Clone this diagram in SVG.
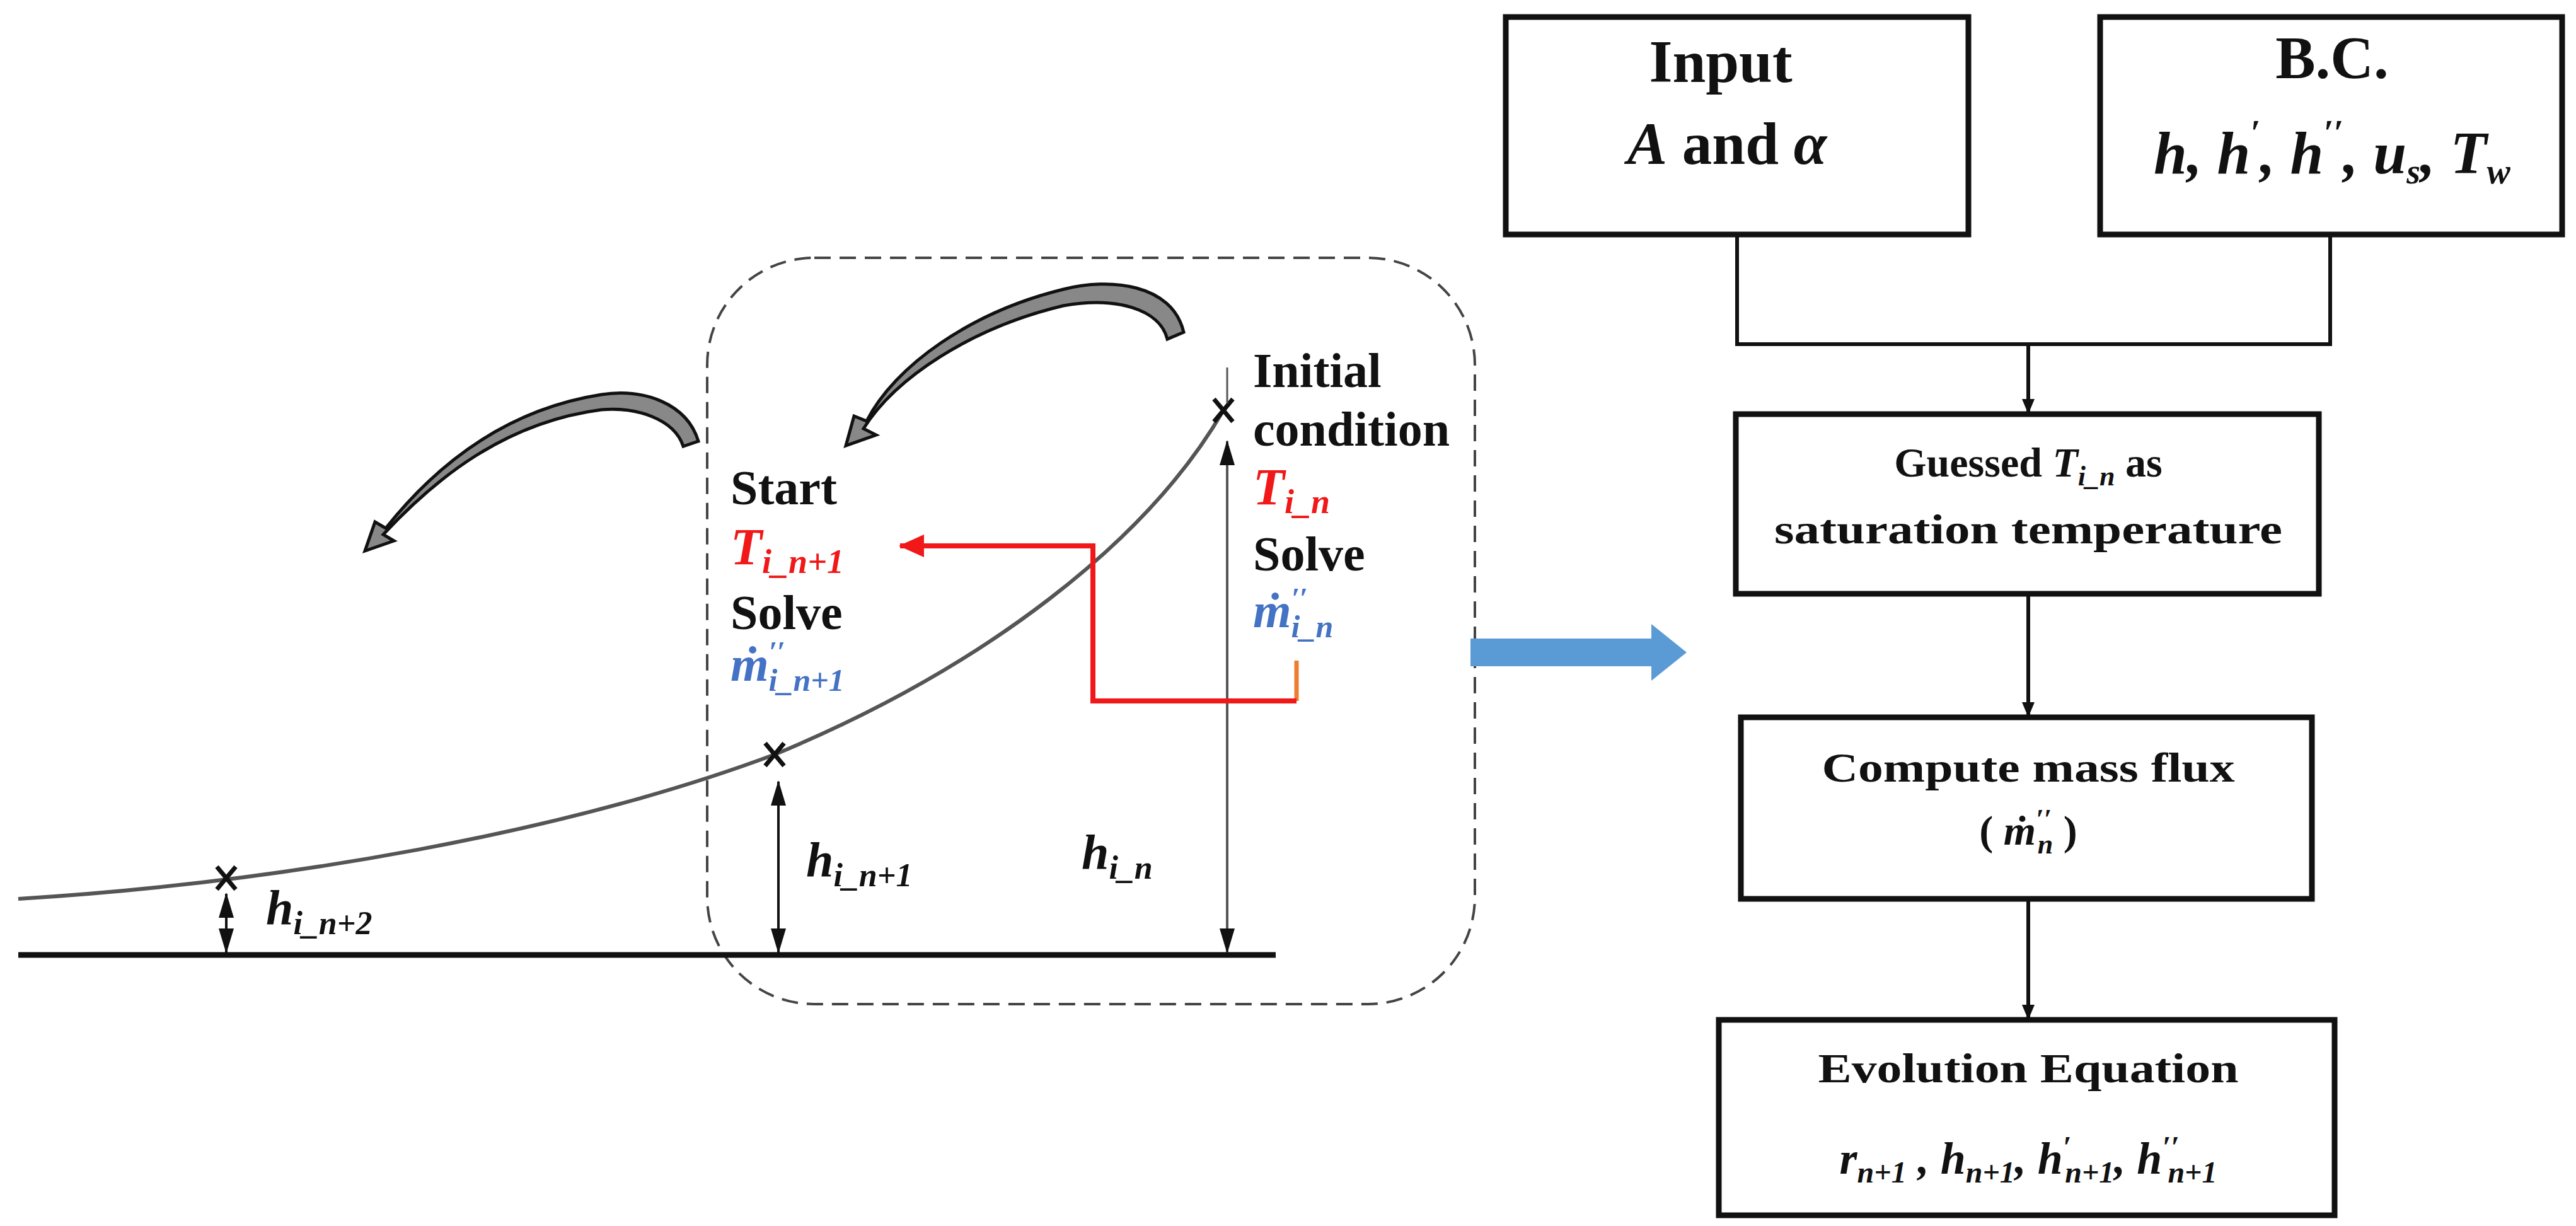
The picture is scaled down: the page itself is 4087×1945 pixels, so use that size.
<svg xmlns="http://www.w3.org/2000/svg" width="4087" height="1945" viewBox="0 0 4087 1945">
<style>
.t{font-family:"Liberation Serif",serif;font-weight:bold;fill:#111}
.i{font-style:italic}
.box{fill:#fff;stroke:#111;stroke-width:9}
.ln{fill:none;stroke:#111;stroke-width:6}
.red{fill:#f01818}
.blue{fill:#4472c4}
</style>
<defs>
<marker id="ah" markerWidth="24" markerHeight="24" refX="22" refY="12" orient="auto" markerUnits="userSpaceOnUse"><path d="M0,2 L24,12 L0,22 z" fill="#111"/></marker>
<marker id="ah2" markerWidth="40" markerHeight="24" refX="38" refY="12" orient="auto-start-reverse" markerUnits="userSpaceOnUse"><path d="M0,0 L40,12 L0,24 z" fill="#111"/></marker>
<marker id="ahr" markerWidth="40" markerHeight="36" refX="38" refY="18" orient="auto" markerUnits="userSpaceOnUse"><path d="M0,0 L40,18 L0,36 z" fill="#f01818"/></marker>
</defs>
<rect width="4087" height="1945" fill="#fff"/>
<g id="region">
<rect x="1122" y="409" width="1218" height="1184" rx="170" fill="none" stroke="#444" stroke-width="4" stroke-dasharray="26,14"/>
</g>
<g id="ground">
<line x1="29" y1="1515" x2="2024" y2="1515" stroke="#111" stroke-width="9"/>
<path d="M29,1426 C450,1400 900,1320 1229,1197 C1560,1060 1820,860 1941,651" fill="none" stroke="#555" stroke-width="6"/>
<g stroke="#111" stroke-width="7">
<path d="M344,1375 L374,1411 M374,1375 L344,1411"/>
<path d="M1214,1179 L1244,1215 M1244,1179 L1214,1215"/>
<path d="M1926,633 L1956,669 M1956,633 L1926,669"/>
</g>
</g>
<g id="connectors">
<line x1="359" y1="1418" x2="359" y2="1511" stroke="#111" stroke-width="4" marker-start="url(#ah2)" marker-end="url(#ah2)"/>
<line x1="1235" y1="1240" x2="1235" y2="1511" stroke="#111" stroke-width="4" marker-start="url(#ah2)" marker-end="url(#ah2)"/>
<line x1="1947" y1="700" x2="1947" y2="1511" stroke="#555" stroke-width="4" marker-start="url(#ah2)" marker-end="url(#ah2)"/>
<line x1="1947" y1="583" x2="1947" y2="640" stroke="#555" stroke-width="3"/>
<path d="M2057,1048 L2057,1112" fill="none" stroke="#ed7d31" stroke-width="7"/>
<path d="M2057,1112 L1734,1112 L1734,866 L1428,866" fill="none" stroke="#f01818" stroke-width="8" marker-end="url(#ahr)"/>
<path d="M2756,372 L2756,546 L3697,546 L3697,372" class="ln"/>
<line x1="3218" y1="546" x2="3218" y2="655" class="ln" marker-end="url(#ah)"/>
<line x1="3218" y1="942" x2="3218" y2="1136" class="ln" marker-end="url(#ah)"/>
<line x1="3218" y1="1426" x2="3218" y2="1616" class="ln" marker-end="url(#ah)"/>
<path d="M1878,527 C1860,450 1760,440 1687,459 C1540,495 1420,580 1375,668 L1355,660 L1342,707 L1390,690 L1370,680 C1420,600 1540,520 1687,485 C1770,470 1840,490 1852,538 Z" fill="#888" stroke="#111" stroke-width="5"/>
<path d="M1108,700 C1090,640 1020,615 954,626 C800,650 690,740 612,838 L595,828 L579,874 L625,858 L608,848 C690,760 800,670 954,650 C1010,645 1070,665 1084,708 Z" fill="#888" stroke="#111" stroke-width="5"/>
<polygon points="2333,1013 2620,1013 2620,990 2676,1035 2620,1080 2620,1057 2333,1057" fill="#5b9bd5"/>
</g>
<g id="labels">
<text x="1159" y="800" font-size="78" class="t">Start</text>
<text x="1159" y="895" font-size="82" class="t red i">T<tspan font-size="54" dy="14">i_n+1</tspan></text>
<text x="1159" y="998" font-size="78" class="t">Solve</text>
<text x="1159" y="1080" font-size="78" class="t blue i">ṁ<tspan font-size="46" dy="-30">′′</tspan><tspan font-size="50" dx="-26" dy="46">i_n+1</tspan></text>
<text x="1988" y="614" font-size="78" class="t">Initial</text>
<text x="1988" y="707" font-size="78" class="t">condition</text>
<text x="1988" y="800" font-size="82" class="t red i">T<tspan font-size="54" dy="14">i_n</tspan></text>
<text x="1988" y="905" font-size="78" class="t">Solve</text>
<text x="1988" y="995" font-size="78" class="t blue i">ṁ<tspan font-size="46" dy="-30">′′</tspan><tspan font-size="50" dx="-26" dy="46">i_n</tspan></text>
<text x="422" y="1466" font-size="78" class="t i">h<tspan font-size="52" dy="16">i_n+2</tspan></text>
<text x="1279" y="1390" font-size="78" class="t i">h<tspan font-size="52" dy="16">i_n+1</tspan></text>
<text x="1716" y="1378" font-size="78" class="t i">h<tspan font-size="52" dy="16">i_n</tspan></text>
</g>
<g id="input">
<rect x="2389" y="27" width="734" height="345" class="box"/>
<text x="2730" y="130" font-size="95" text-anchor="middle" class="t">Input</text>
<text x="2740" y="260" font-size="95" text-anchor="middle" class="t"><tspan class="i">A</tspan>   and   <tspan class="i">α</tspan></text>
</g>
<g id="bc">
<rect x="3332" y="27" width="733" height="345" class="box"/>
<text x="3700" y="124" font-size="95" text-anchor="middle" class="t">B.C.</text>
<text x="3700" y="275" font-size="95" text-anchor="middle" class="t i">h, h<tspan font-size="56" dy="-45">′</tspan><tspan dy="45">, h</tspan><tspan font-size="56" dy="-45">′′</tspan><tspan dy="45">, u</tspan><tspan font-size="56" dy="16">s</tspan><tspan dy="-16">, T</tspan><tspan font-size="56" dy="16">w</tspan></text>
</g>
<g id="guessed">
<rect x="2754" y="657" width="925" height="285" class="box" stroke-width="6"/>
<text x="3218" y="756" font-size="66" text-anchor="middle" class="t">Guessed <tspan class="i">T</tspan><tspan class="i" font-size="44" dy="14">i_n</tspan><tspan dy="-14"> as</tspan></text>
<text x="3218" y="862" font-size="66" text-anchor="middle" class="t" textLength="806" lengthAdjust="spacingAndGlyphs">saturation temperature</text>
</g>
<g id="compute">
<rect x="2762" y="1138" width="906" height="288" class="box" stroke-width="6"/>
<text x="3218" y="1240" font-size="66" text-anchor="middle" class="t" textLength="655" lengthAdjust="spacingAndGlyphs">Compute mass flux</text>
<text x="3218" y="1340" font-size="66" text-anchor="middle" class="t">( <tspan class="i">ṁ</tspan><tspan class="i" font-size="44" dy="-26">′′</tspan><tspan class="i" font-size="44" dx="-22" dy="40">n</tspan><tspan dy="-14"> )</tspan></text>
</g>
<g id="evolution">
<rect x="2727" y="1618" width="977" height="310" class="box" stroke-width="6"/>
<text x="3218" y="1717" font-size="66" text-anchor="middle" class="t" textLength="667" lengthAdjust="spacingAndGlyphs">Evolution Equation</text>
<text x="3218" y="1862" font-size="72" text-anchor="middle" class="t i">r<tspan font-size="48" dy="14">n+1</tspan><tspan dy="-14"> , h</tspan><tspan font-size="48" dy="14">n+1</tspan><tspan dy="-14">, h</tspan><tspan font-size="48" dy="-26">′</tspan><tspan font-size="48" dx="-10" dy="40">n+1</tspan><tspan dy="-14">, h</tspan><tspan font-size="48" dy="-26">′′</tspan><tspan font-size="48" dx="-18" dy="40">n+1</tspan></text>
</g>
</svg>
